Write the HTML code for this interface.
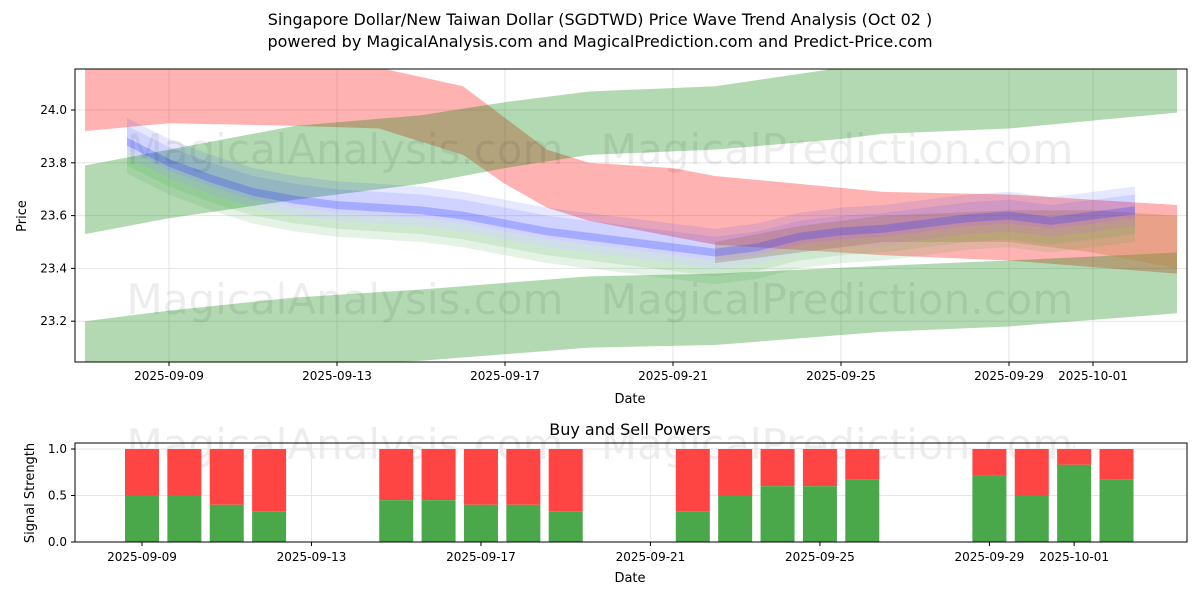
<!DOCTYPE html>
<html><head><meta charset="utf-8"><style>
body{margin:0;background:#fff;font-family:"Liberation Sans","DejaVu Sans",sans-serif}
svg text{font-family:"DejaVu Sans","Liberation Sans",sans-serif}
</style></head><body>
<svg id="c" width="1200" height="600" xmlns="http://www.w3.org/2000/svg"></svg>
<script>
// ---- data ----
const redDates=[-2,0,3,5,7,8,9,10,12,13,15,17,20,24];
const redTop=[24.16,24.16,24.16,24.16,24.09,23.97,23.85,23.8,23.78,23.75,23.72,23.69,23.68,23.64];
const redBot=[23.92,23.95,23.94,23.93,23.83,23.72,23.63,23.58,23.52,23.49,23.47,23.45,23.43,23.38];
const gTopDates=[-2,0,3,6,8,10,13,16,17,20,24];
const gTopHi=[23.79,23.85,23.94,23.98,24.03,24.07,24.09,24.16,24.17,24.17,24.17];
const gTopLo=[23.53,23.59,23.66,23.72,23.78,23.83,23.85,23.89,23.91,23.93,23.99];
const gBotDates=[-2,0,3,6,10,13,17,20,24];
const gBotHi=[23.2,23.24,23.29,23.32,23.37,23.38,23.41,23.43,23.46];
const gBotLo=[23.0,23.01,23.03,23.05,23.1,23.11,23.16,23.18,23.23];
const waveDates=[-1,0,1,2,3,4,5,6,7,8,9,10,11,12,13,14,15,16,17,18,19,20,21,22,23];
const waveMid=[23.88,23.8,23.74,23.69,23.66,23.64,23.63,23.62,23.6,23.57,23.54,23.52,23.5,23.48,23.46,23.48,23.52,23.54,23.55,23.57,23.59,23.6,23.58,23.6,23.62];
const waveOffsets=[0.06,0.03,0,-0.03,-0.06,-0.09];
const brownDates=[13,15,17,20,22,24];
const brownHi=[23.5,23.56,23.6,23.62,23.62,23.6];
const brownLo=[23.42,23.46,23.5,23.5,23.46,23.4];
const barDates=[0,1,2,3,6,7,8,9,10,13,14,15,16,17,20,21,22,23];
const buyVals=[0.5,0.5,0.4,0.33,0.45,0.45,0.4,0.4,0.33,0.33,0.5,0.6,0.6,0.67,0.72,0.5,0.83,0.67];
const xTicks=[0,4,8,12,16,20,22];
const xTickLabels=["2025-09-09","2025-09-13","2025-09-17","2025-09-21","2025-09-25","2025-09-29","2025-10-01"];
const yTicks=[23.2,23.4,23.6,23.8,24.0];
const y2Ticks=[0,0.5,1];
// ---- scales ----
const X=d=>169+d*42;
const Y=v=>110+(24.0-v)*264;
const X2=d=>142+d*42.37;
const Y2=v=>542-v*93;
const svg=document.getElementById('c');
const NS="http://www.w3.org/2000/svg";
function el(t,a,p){const e=document.createElementNS(NS,t);for(const k in a)e.setAttribute(k,a[k]);(p||svg).appendChild(e);return e;}
function txt(s,a,p){const e=el('text',a,p);e.textContent=s;return e;}
function band(ds,hi,lo,fill,op,name,g){
  let pts=ds.map((d,i)=>X(d)+','+Y(hi[i]));
  for(let i=ds.length-1;i>=0;i--)pts.push(X(ds[i])+','+Y(lo[i]));
  const p=el('polygon',{points:pts.join(' '),fill:fill,'fill-opacity':op},g);
  
  
}
// titles
txt("Singapore Dollar/New Taiwan Dollar (SGDTWD) Price Wave Trend Analysis (Oct 02 )",{x:600,y:25,'text-anchor':'middle','font-size':16});
txt("powered by MagicalAnalysis.com and MagicalPrediction.com and Predict-Price.com",{x:600,y:47,'text-anchor':'middle','font-size':16});
// main plot
el('defs',{}).innerHTML='<clipPath id="cp"><rect x="75" y="69" width="1112" height="293"/></clipPath>';
const g=el('g',{'clip-path':'url(#cp)'});


yTicks.forEach(v=>el('line',{x1:75,x2:1187,y1:Y(v),y2:Y(v),stroke:'#e6e6e6'},g));
xTicks.forEach(d=>el('line',{x1:X(d),x2:X(d),y1:69,y2:362,stroke:'#e6e6e6'},g));
band(redDates,redTop,redBot,'#ff0000',0.3,'red-band',g);
band(gTopDates,gTopHi,gTopLo,'#008000',0.3,'green-upper-band',g);
band(gBotDates,gBotHi,gBotLo,'#008000',0.3,'green-lower-band',g);
band(brownDates,brownHi,brownLo,'#c08040',0.35,'brown-band',g);
waveOffsets.forEach((o,k)=>{
  const hi=waveMid.map(v=>v+o+0.03), lo=waveMid.map(v=>v+o-0.03);
  band(waveDates,hi,lo,k>3?'#4caf50':'#3344ff',k>3?0.15:0.12,'wave-band-'+k,g);
});
band(waveDates,waveMid.map(v=>v+0.015),waveMid.map(v=>v-0.015),'#2233ff',0.25,'wave-core',g);
// watermarks
[[345,150],[837,150],[345,300],[837,300],[345,445],[837,445]].forEach(p=>{
  const t=txt(p[0]<600?"MagicalAnalysis.com":"MagicalPrediction.com",{x:p[0],y:p[1]+14,'text-anchor':'middle','font-size':42,fill:'#000','fill-opacity':0.07});
  
});
el('rect',{x:75,y:69,width:1112,height:293,fill:'none',stroke:'#000','stroke-width':1});
yTicks.forEach(v=>{el('line',{x1:71,x2:75,y1:Y(v),y2:Y(v),stroke:'#000'});txt(v.toFixed(1),{x:67,y:Y(v)+4,'text-anchor':'end','font-size':12});});
xTicks.forEach((d,i)=>{el('line',{x1:X(d),x2:X(d),y1:362,y2:366,stroke:'#000'});txt(xTickLabels[i],{x:X(d),y:380,'text-anchor':'middle','font-size':12});});
txt("Date",{x:630,y:403,'text-anchor':'middle','font-size':13});
txt("Price",{x:26,y:216,'text-anchor':'middle','font-size':13,transform:'rotate(-90 26 216)'});
// bottom plot
txt("Buy and Sell Powers",{x:630,y:435,'text-anchor':'middle','font-size':16});
y2Ticks.forEach(v=>el('line',{x1:75,x2:1187,y1:Y2(v),y2:Y2(v),stroke:'#e6e6e6'}));
xTicks.forEach(d=>el('line',{x1:X2(d),x2:X2(d),y1:443,y2:542,stroke:'#e6e6e6'}));
barDates.forEach((d,i)=>{
  const cx=X2(d), w=34;
  const r=el('rect',{x:cx-w/2,y:Y2(1),width:w,height:Y2(buyVals[i])-Y2(1),fill:'#ff4444'});
  
  
  const b=el('rect',{x:cx-w/2,y:Y2(buyVals[i]),width:w,height:Y2(0)-Y2(buyVals[i]),fill:'#4aa84a'});
  
  
});
el('rect',{x:75,y:443,width:1112,height:99,fill:'none',stroke:'#000'});
y2Ticks.forEach(v=>{el('line',{x1:71,x2:75,y1:Y2(v),y2:Y2(v),stroke:'#000'});txt(v.toFixed(1),{x:67,y:Y2(v)+4,'text-anchor':'end','font-size':12});});
xTicks.forEach((d,i)=>{el('line',{x1:X2(d),x2:X2(d),y1:542,y2:546,stroke:'#000'});txt(xTickLabels[i],{x:X2(d),y:561,'text-anchor':'middle','font-size':12});});
txt("Date",{x:630,y:582,'text-anchor':'middle','font-size':13});
txt("Signal Strength",{x:34,y:493,'text-anchor':'middle','font-size':13,transform:'rotate(-90 34 493)'});
</script>
</body></html>
